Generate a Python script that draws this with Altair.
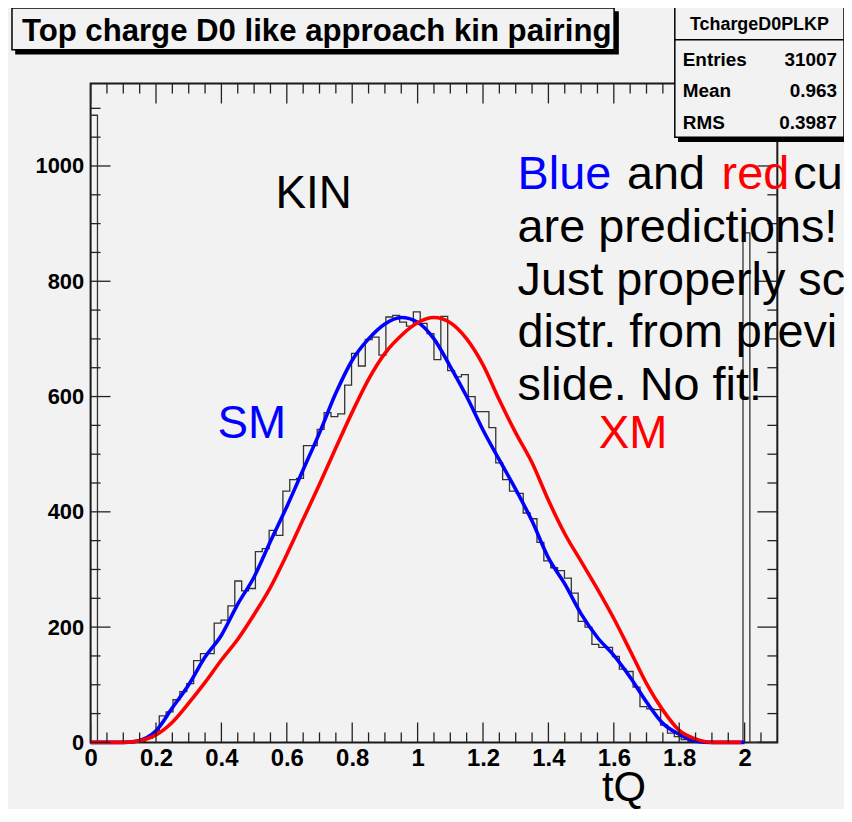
import altair as alt
import pandas as pd

# ---------------- data ----------------
BIN_WIDTH = 0.021          # 100 bins from 0 to 2.1
X_MAX = 2.1
Y_MAX = 1143

counts = [1088, 0, 0, 0, 0, 0, 0,
          2, 7, 16, 46, 53, 74, 88, 102, 142, 154, 154,
          207, 212, 237, 280, 263, 267, 331, 336, 368, 359,
          436, 456, 458, 515, 515, 543, 572, 565, 570, 620,
          675, 653, 699, 703, 672, 738, 741, 729, 722, 747,
          727, 709, 664, 739, 645, 634, 638, 600, 574, 574,
          546, 485, 456, 436, 432, 398, 388, 347, 315, 303,
          298, 285, 259, 210, 200, 170, 165, 165, 149, 127,
          123, 96, 62, 58, 57, 30, 16, 10, 5, 2, 1,
          0, 0, 0, 0, 0, 0, 884, 0, 0, 0, 0]
assert len(counts) == 100

sm_x = [0.0, 0.10, 0.14, 0.20, 0.25, 0.30, 0.35, 0.40, 0.45, 0.50, 0.55, 0.60, 0.65,
        0.70, 0.75, 0.80, 0.85, 0.90, 0.95, 1.00, 1.05, 1.10, 1.15, 1.20, 1.25, 1.30,
        1.35, 1.40, 1.45, 1.50, 1.55, 1.60, 1.65, 1.70, 1.75, 1.80, 1.85, 1.90, 2.00]
sm_y = [0, 0, 2, 20, 60, 100, 148, 186, 240, 287, 349, 409, 473,
        537, 606, 663, 700, 726, 737, 729, 700, 652, 600, 542, 490, 439,
        384, 320, 275, 223, 182, 151, 113, 70, 33, 14, 2, 0, 0]

xm_x = [0.0, 0.10, 0.15, 0.20, 0.25, 0.30, 0.35, 0.40, 0.45, 0.50, 0.55, 0.60, 0.65,
        0.70, 0.75, 0.80, 0.85, 0.90, 0.95, 1.00, 1.05, 1.10, 1.15, 1.20, 1.25, 1.30,
        1.35, 1.40, 1.45, 1.50, 1.55, 1.60, 1.65, 1.70, 1.75, 1.80, 1.85, 1.90, 1.99]
xm_y = [0, 0, 3, 13, 35, 68, 104, 143, 179, 222, 269, 326, 387,
        448, 511, 573, 630, 675, 706, 728, 737, 728, 700, 655, 594, 537,
        485, 420, 362, 314, 266, 215, 159, 102, 56, 21, 6, 0, 0]

x_tick_labels = [0, 0.2, 0.4, 0.6, 0.8, 1.0, 1.2, 1.4, 1.6, 1.8, 2.0]
x_minor = [0.05, 0.1, 0.15, 0.25, 0.3, 0.35, 0.45, 0.5, 0.55, 0.65, 0.7, 0.75,
           0.85, 0.9, 0.95, 1.05, 1.1, 1.15, 1.25, 1.3, 1.35, 1.45, 1.5, 1.55,
           1.65, 1.7, 1.75, 1.85, 1.9, 1.95, 2.05]
y_tick_labels = [0, 200, 400, 600, 800, 1000]
y_minor = [50, 100, 150, 250, 300, 350, 450, 500, 550, 650, 700, 750,
           850, 900, 950, 1050, 1100]

title_text = "Top charge D0 like approach kin pairing"
stats_name = "TchargeD0PLKP"
stats_labels = ["Entries", "Mean", "RMS"]
stats_values = ["31007", "0.963", "0.3987"]
note_lines = ["are predictions!", "Just properly sc", "distr. from previ", "slide. No fit!"]

# ---------------- frames ----------------
hist_df = pd.DataFrame({
    "x": [i * BIN_WIDTH for i in range(len(counts))] + [X_MAX],
    "y": counts + [0],
})
sm_df = pd.DataFrame({"x": sm_x, "y": sm_y})
xm_df = pd.DataFrame({"x": xm_x, "y": xm_y})
xmaj_df = pd.DataFrame({"x": x_tick_labels})
xmin_df = pd.DataFrame({"x": x_minor})
ymaj_df = pd.DataFrame({"y": y_tick_labels})
ymin_df = pd.DataFrame({"y": y_minor})
one = pd.DataFrame({"k": [0]})

W, H = 690, 662
FONT = "Liberation Sans"

X = alt.X("x:Q",
          scale=alt.Scale(domain=[0, X_MAX], nice=False, zero=False),
          axis=alt.Axis(values=x_tick_labels, format="~g", ticks=False, domain=False,
                        grid=False, title=None, labelFont=FONT,
                        labelFontWeight="bold", labelFontSize=24, labelColor="black",
                        labelPadding=4, labelFlush=False, labelOverlap=False))
Y = alt.Y("y:Q",
          scale=alt.Scale(domain=[0, Y_MAX], nice=False, zero=True),
          axis=alt.Axis(values=y_tick_labels, format="d", ticks=False, domain=False,
                        grid=False, title=None, labelFont=FONT, labelFontWeight="bold",
                        labelFontSize=22, labelColor="black", labelPadding=7,
                        labelFlush=False, labelOverlap=False))

layers = []

# histogram outline
layers.append(alt.Chart(hist_df).mark_line(interpolate="step-after", color="#333333",
                                           strokeWidth=1.3).encode(x=X, y=Y))
# predicted curves
layers.append(alt.Chart(sm_df).mark_line(interpolate="monotone", color="#0000ff",
                                         strokeWidth=3.6).encode(x=X, y=Y))
layers.append(alt.Chart(xm_df).mark_line(interpolate="monotone", color="#ff0000",
                                         strokeWidth=3.6).encode(x=X, y=Y))

# ROOT style ticks on all four sides (inside the frame)
TICK = dict(color="#222222", strokeWidth=1.3)
layers.append(alt.Chart(xmaj_df).mark_rule(**TICK).encode(x=X, y=alt.value(H), y2=alt.value(H - 20)))
layers.append(alt.Chart(xmin_df).mark_rule(**TICK).encode(x=X, y=alt.value(H), y2=alt.value(H - 10)))
layers.append(alt.Chart(xmaj_df).mark_rule(**TICK).encode(x=X, y=alt.value(0), y2=alt.value(20)))
layers.append(alt.Chart(xmin_df).mark_rule(**TICK).encode(x=X, y=alt.value(0), y2=alt.value(10)))
layers.append(alt.Chart(ymaj_df).mark_rule(**TICK).encode(y=Y, x=alt.value(0), x2=alt.value(20)))
layers.append(alt.Chart(ymin_df).mark_rule(**TICK).encode(y=Y, x=alt.value(0), x2=alt.value(10)))
layers.append(alt.Chart(ymaj_df).mark_rule(**TICK).encode(y=Y, x=alt.value(W), x2=alt.value(W - 20)))
layers.append(alt.Chart(ymin_df).mark_rule(**TICK).encode(y=Y, x=alt.value(W), x2=alt.value(W - 10)))


def txt(s, px, py, color="black", size=46, weight="normal", align="left"):
    return alt.Chart(one).mark_text(text=s, align=align, baseline="alphabetic", font=FONT,
                                    fontSize=size, fontWeight=weight, color=color
                                    ).encode(x=alt.value(px), y=alt.value(py))


def box(x1, x2, y1, y2, fill="#f2f2f2", stroke="black", sw=1.5):
    return alt.Chart(one).mark_rect(fill=fill, stroke=stroke, strokeWidth=sw).encode(
        x=alt.value(x1), x2=alt.value(x2), y=alt.value(y1), y2=alt.value(y2))


# annotations inside the frame
layers.append(txt("KIN", 224, 125, align="center"))
layers.append(txt("SM", 162, 356, color="#0000ff", align="center"))
layers.append(txt("XM", 545, 366, color="#ff0000", align="center"))

# title box with shadow
layers.append(box(-75, 530, -72, -30, fill="black", stroke="black"))
layers.append(box(-79, 526, -76, -34))
layers.append(txt(title_text, -69, -43, size=31.3, weight="bold"))

# stats box with shadow
layers.append(box(591, 761, -73, 58, fill="black", stroke="black"))
layers.append(box(587, 757, -77, 54))
layers.append(alt.Chart(one).mark_rule(color="black", strokeWidth=1.3).encode(
    x=alt.value(587), x2=alt.value(757), y=alt.value(-44)))
layers.append(txt(stats_name, 672, -54, size=18, weight="bold", align="center"))
for i, (lab, val) in enumerate(zip(stats_labels, stats_values)):
    layers.append(txt(lab, 595, -18 + 32 * i, size=19, weight="bold"))
    layers.append(txt(val, 750, -18 + 32 * i, size=19, weight="bold", align="right"))

# note text (runs off the right edge, as in the reference)
layers.append(txt("Blue", 429, 106, color="#0000ff", size=47))
layers.append(txt("and", 539, 106, size=47))
layers.append(txt("red", 634, 106, color="#ff0000", size=47))
layers.append(txt("cu", 706, 106, size=47))
for i, line in enumerate(note_lines):
    layers.append(txt(line, 429, 159 + 53 * i, size=47))

# x axis title
layers.append(txt("tQ", 536, 721, size=42, align="center"))

chart = alt.layer(*layers).properties(
    width=W, height=H,
    background="#f2f2f2",
    padding={"left": 83, "top": 74, "right": 67, "bottom": 65},
    autosize=alt.AutoSizeParams(type="none"),
).configure_view(stroke="#1a1a1a", strokeWidth=2)

chart.save("out.html", embed_options={"renderer": "svg", "actions": False})
